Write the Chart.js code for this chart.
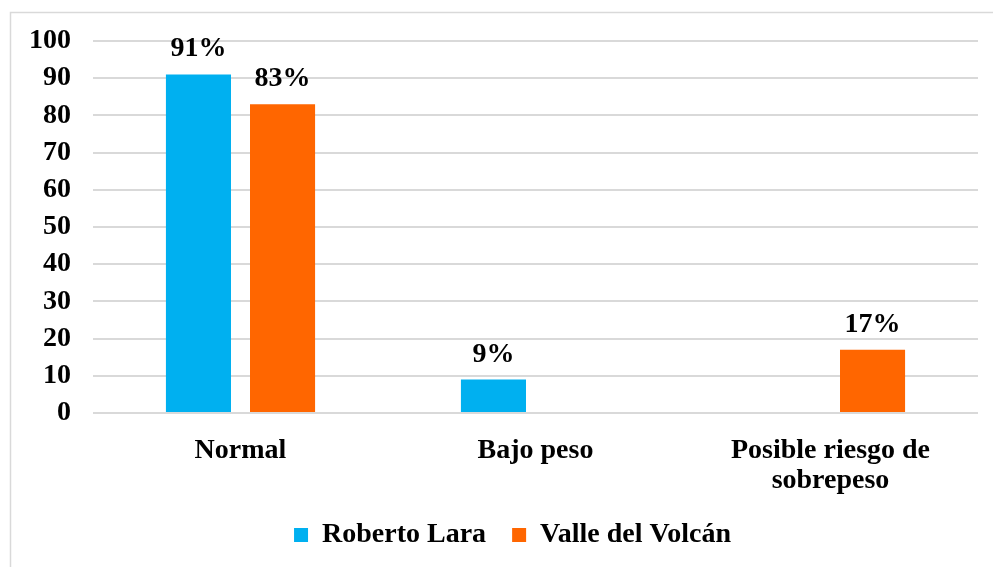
<!DOCTYPE html>
<html>
<head>
<meta charset="utf-8">
<script src="https://cdn.jsdelivr.net/npm/chart.js@4/dist/chart.umd.min.js"></script>
<style>
  html, body { margin: 0; padding: 0; background: #ffffff; }
  #wrap { position: relative; width: 993px; height: 567px; }
</style>
</head>
<body>
<div id="wrap"><canvas id="c" width="993" height="567"></canvas></div>
<script>
const categories = ["Normal", "Bajo peso", ["Posible riesgo de", "sobrepeso"]];
const seriesNames = ["Roberto Lara", "Valle del Volcán"];
const robertoLara = [91, 9, 0];
const valleDelVolcan = [83, 0, 17];
const yTicks = [0, 10, 20, 30, 40, 50, 60, 70, 80, 90, 100];

const FONT = "'Liberation Serif', 'Times New Roman', serif";

const framePlugin = {
  id: 'frame',
  beforeDraw(chart) {
    const ctx = chart.ctx;
    ctx.save();
    ctx.strokeStyle = '#d9d9d9';
    ctx.lineWidth = 1.5;
    ctx.beginPath();
    ctx.moveTo(10.5, 567);
    ctx.lineTo(10.5, 12.5);
    ctx.lineTo(993, 12.5);
    ctx.stroke();
    ctx.restore();
  }
};

const legendShift = {
  id: 'legendShift',
  afterLayout(chart) {
    if (chart.legend) {
      chart.legend.left += 16;
      chart.legend.right += 16;
    }
  }
};

const labelPlugin = {
  id: 'barLabels',
  afterDatasetsDraw(chart) {
    const ctx = chart.ctx;
    ctx.save();
    ctx.font = "bold 28px " + FONT;
    ctx.fillStyle = '#000000';
    ctx.textAlign = 'center';
    ctx.textBaseline = 'alphabetic';
    chart.data.datasets.forEach((ds, i) => {
      const meta = chart.getDatasetMeta(i);
      meta.data.forEach((bar, j) => {
        const v = ds.data[j];
        if (v > 0) {
          ctx.fillText(v + '%', bar.x, bar.y - 18);
        }
      });
    });
    ctx.restore();
  }
};

new Chart(document.getElementById('c'), {
  type: 'bar',
  data: {
    labels: categories,
    datasets: [
      { label: seriesNames[0], data: robertoLara, backgroundColor: '#00B0F0',
        categoryPercentage: 0.57, barPercentage: 0.774 },
      { label: seriesNames[1], data: valleDelVolcan, backgroundColor: '#FF6600',
        categoryPercentage: 0.57, barPercentage: 0.774 }
    ]
  },
  options: {
    responsive: false,
    animation: false,
    devicePixelRatio: 1,
    layout: { padding: { left: 15, right: 15, top: 41, bottom: 8 } },
    plugins: {
      legend: {
        position: 'bottom',
        labels: {
          boxWidth: 14, boxHeight: 14, padding: 26,
          color: '#000000',
          font: { family: FONT, size: 28, weight: 'bold' }
        }
      },
      tooltip: { enabled: false }
    },
    scales: {
      x: {
        grid: { display: false },
        border: { display: false },
        ticks: {
          color: '#000000',
          padding: 14,
          maxRotation: 0,
          font: { family: FONT, size: 28, weight: 'bold', lineHeight: 1.1 }
        },
        afterFit(scale) { scale.height = 82; }
      },
      y: {
        min: 0, max: 100,
        afterBuildTicks(scale) { scale.ticks = yTicks.map(v => ({ value: v })); },
        grid: { color: '#d9d9d9', lineWidth: 2, drawTicks: false },
        border: { display: false },
        ticks: {
          color: '#000000',
          padding: 22,
          font: { family: FONT, size: 28, weight: 'bold' }
        },
        afterFit(scale) { scale.width = 78; }
      }
    }
  },
  plugins: [framePlugin, legendShift, labelPlugin]
});
</script>
</body>
</html>
